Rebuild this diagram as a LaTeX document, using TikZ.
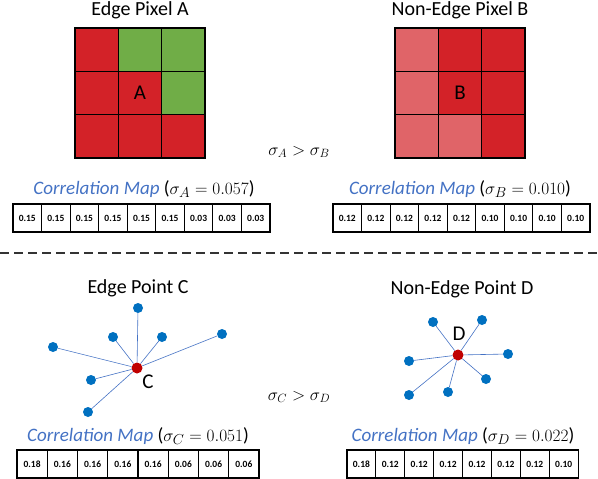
\documentclass[tikz,border=0pt]{standalone}
\usepackage{fontspec}
\setmainfont{Carlito}
\usetikzlibrary{positioning}
\definecolor{cellred}{RGB}{211,34,40}
\definecolor{cellgreen}{RGB}{112,173,71}
\definecolor{celllight}{RGB}{224,100,104}
\definecolor{dotblue}{RGB}{0,112,192}
\definecolor{dotred}{RGB}{192,0,0}
\definecolor{linkblue}{RGB}{68,114,196}
\tikzset{
  cell/.style={draw,line width=1.4pt,minimum size=43.3pt,inner sep=0pt,font=\fontsize{21}{21}\selectfont},
  mapbox/.style={draw,line width=1.1pt,minimum height=28pt,inner sep=0pt,font=\fontsize{9.5}{10}\selectfont\bfseries},
  title/.style={font=\fontsize{20}{21}\selectfont},
  maplabel/.style={font=\fontsize{19}{21}\selectfont},
  cmp/.style={font=\fontsize{16.5}{18}\selectfont},
  pt-b/.style={circle,fill=dotblue,minimum size=10pt,inner sep=0pt},
  pt-r/.style={circle,fill=dotred,minimum size=11pt,inner sep=0pt},
  link/.style={linkblue,line width=0.6pt},
  ptlabel/.style={font=\fontsize{21}{21}\selectfont},
  sep/.style={draw,black!80,line width=1.1pt,dash pattern=on 9pt off 5pt},
}
\newcommand{\cmap}{\textcolor{linkblue}{\itshape Correlation Map}}

\begin{document}
\begin{tikzpicture}[x=1pt,y=-1pt]
  \useasboundingbox (0,0) rectangle (598,479);

  % PIXEL A
  \node[title] (tA) at (140,10) {Edge Pixel A};
  \node[cell,fill=cellred]   (a11) at (96.7,49.7)  {};
  \node[cell,fill=cellgreen] (a12) at (140,49.7)   {};
  \node[cell,fill=cellgreen] (a13) at (183.3,49.7) {};
  \node[cell,fill=cellred]   (a21) at (96.7,93)    {};
  \node[cell,fill=cellred]   (a22) at (140,93)     {A};
  \node[cell,fill=cellgreen] (a23) at (183.3,93)   {};
  \node[cell,fill=cellred]   (a31) at (96.7,136.3) {};
  \node[cell,fill=cellred]   (a32) at (140,136.3)  {};
  \node[cell,fill=cellred]   (a33) at (183.3,136.3){};

  % PIXEL B
  \node[title] (tB) at (460,10) {Non-Edge Pixel B};
  \node[cell,fill=celllight] (b11) at (416.7,49.7)  {};
  \node[cell,fill=cellred]   (b12) at (460,49.7)    {};
  \node[cell,fill=cellred]   (b13) at (503.3,49.7)  {};
  \node[cell,fill=celllight] (b21) at (416.7,93)    {};
  \node[cell,fill=cellred]   (b22) at (460,93)      {B};
  \node[cell,fill=cellred]   (b23) at (503.3,93)    {};
  \node[cell,fill=celllight] (b31) at (416.7,136.3) {};
  \node[cell,fill=celllight] (b32) at (460,136.3)   {};
  \node[cell,fill=cellred]   (b33) at (503.3,136.3) {};

  \node[cmp] (cAB) at (299,152) {$\sigma_A > \sigma_B$};

  % correlation maps, top
  \node[maplabel] (lA) at (144,189) {\cmap{} ($\sigma_A = 0.057$)};
  \foreach \v [count=\i] in {0.15,0.15,0.15,0.15,0.15,0.15,0.03,0.03,0.03}
    \node[mapbox,minimum width=28.55pt] (mA\i) at ({27.3+28.55*(\i-1)},218) {\v};
  \node[maplabel] (lB) at (460,189) {\cmap{} ($\sigma_B = 0.010$)};
  \foreach \v [count=\i] in {0.12,0.12,0.12,0.12,0.12,0.10,0.10,0.10,0.10}
    \node[mapbox,minimum width=28.55pt] (mB\i) at ({347.3+28.55*(\i-1)},218) {\v};

  \coordinate (s1) at (0,253);
  \coordinate (s2) at (598,253);
  \draw[sep] (s1) -- (s2);

  % POINT C
  \node[title] (tC) at (138,288) {Edge Point C};
  \node[pt-r] (c) at (137,368) {};
  \node[pt-b] (c1) at (138,308) {};
  \node[pt-b] (c2) at (113,337) {};
  \node[pt-b] (c3) at (162,337) {};
  \node[pt-b] (c4) at (222,334) {};
  \node[pt-b] (c5) at (53,347)  {};
  \node[pt-b] (c6) at (91,380)  {};
  \node[pt-b] (c7) at (88,412)  {};
  \foreach \n in {c1,c2,c3,c4,c5,c6,c7}
    \draw[link] (c) -- (\n);
  \node[ptlabel] (lc) at (148,382) {C};

  % POINT D
  \node[title] (tD) at (462,289) {Non-Edge Point D};
  \node[pt-r] (d) at (458,355) {};
  \node[pt-b] (d1) at (433,322) {};
  \node[pt-b] (d2) at (482,320) {};
  \node[pt-b] (d3) at (508,354) {};
  \node[pt-b] (d4) at (409,361) {};
  \node[pt-b] (d5) at (486,379) {};
  \node[pt-b] (d6) at (448,392) {};
  \node[pt-b] (d7) at (409,395) {};
  \foreach \n in {d1,d2,d3,d4,d5,d6,d7}
    \draw[link] (d) -- (\n);
  \node[ptlabel] (ld) at (459,334) {D};

  \node[cmp] (cCD) at (299,397) {$\sigma_C > \sigma_D$};

  % correlation maps, bottom
  \node[maplabel] (lC) at (138,436) {\cmap{} ($\sigma_C = 0.051$)};
  \foreach \v [count=\i] in {0.18,0.16,0.16,0.16,0.16,0.06,0.06,0.06}
    \node[mapbox,minimum width=30.25pt] (mC\i) at ({32.1+30.25*(\i-1)},464) {\v};
  \node[maplabel] (lD) at (463,436) {\cmap{} ($\sigma_D = 0.022$)};
  \foreach \v [count=\i] in {0.18,0.12,0.12,0.12,0.12,0.12,0.12,0.10}
    \node[mapbox,minimum width=28.9pt] (mD\i) at ({361.4+28.9*(\i-1)},464) {\v};

\end{tikzpicture}
\end{document}
